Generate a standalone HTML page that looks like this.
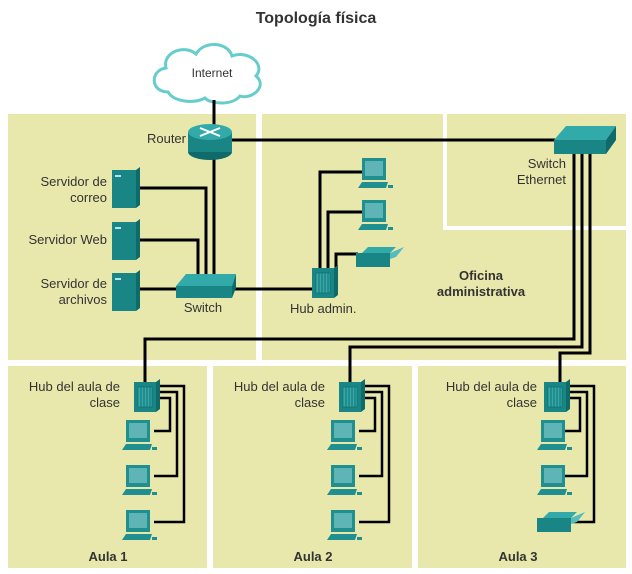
<!DOCTYPE html>
<html><head><meta charset="utf-8"><style>
body{margin:0;background:#fff}
svg{display:block}
text{font-family:"Liberation Sans",sans-serif;fill:#333}
</style></head><body>
<svg width="632" height="574" viewBox="0 0 632 574" xmlns="http://www.w3.org/2000/svg">
<defs>
<g id="pc">
<rect x="4" y="0" width="24" height="22" fill="#1f8f8f"/>
<rect x="7" y="3" width="18" height="15" fill="#5fb5b5"/>
<polygon points="0,30 4,24 30,24 28,30" fill="#1f8f8f"/>
<rect x="30" y="27" width="5" height="3" fill="#1f8f8f"/>
</g>
<g id="srv">
<rect x="0" y="0" width="24" height="38" fill="#1a8585"/>
<polygon points="24,0 28,-3 28,35 24,38" fill="#0f6a6a"/>
<rect x="3" y="5" width="6" height="2" fill="#bde"/>
</g>
<g id="hub">
<rect x="0" y="0" width="22" height="30" fill="#1a8585"/>
<polygon points="22,0 26,-3 26,27 22,30" fill="#0f6a6a"/>
<rect x="4" y="5" width="14" height="20" fill="#3aa" stroke="#0d5f5f" stroke-width="0.5"/>
<path d="M7 5v20M10 5v20M13 5v20M16 5v20" stroke="#0d5f5f" stroke-width="0.8"/>
</g>
<g id="prn">
<rect x="0" y="6" width="34" height="14" fill="#1a8585"/>
<polygon points="6,6 34,6 40,0 12,0" fill="#3aa"/>
<polygon points="34,6 48,0 40,10 34,12" fill="#5bb"/>
</g>
</defs>
<text x="316" y="23" text-anchor="middle" font-size="16" font-weight="bold">Topología física</text>
<!-- panels -->
<rect x="8" y="114" width="248" height="246" fill="#e8e8ac"/>
<rect x="262" y="114" width="364" height="246" fill="#e8e8ac"/>
<rect x="443" y="114" width="4" height="116" fill="#fff"/>
<rect x="443" y="226" width="183" height="4" fill="#fff"/>
<rect x="8" y="366" width="199" height="202" fill="#e8e8ac"/>
<rect x="213" y="366" width="199" height="202" fill="#e8e8ac"/>
<rect x="418" y="366" width="208" height="202" fill="#e8e8ac"/>
<!-- cloud -->
<path d="M168 92 C150 92 150 70 166 68 C162 52 185 44 196 54 C204 40 228 42 232 56 C248 50 266 64 256 76 C268 86 252 100 240 96 C232 106 210 104 205 98 C194 104 174 102 168 92Z" fill="#fff" stroke="#6cc" stroke-width="3"/>
<text x="212" y="77" text-anchor="middle" font-size="12">Internet</text>
<g stroke="#000" stroke-width="3" fill="none">
<path d="M214 100V285"/>
<path d="M214 140H560"/>
<path d="M140 188H206V280M140 240H198V280M140 289H180M230 289H314"/>
<path d="M320 268V172H362M328 268V212H362M336 268V254H358"/>
<path d="M574 150V339H145V382M582 150V347H350V382M590 150V353H560V382"/>
</g>
<g stroke="#000" stroke-width="2.5" fill="none">
<path d="M158 386H184V522H154M158 392H177V476H154M158 398H170V431H154"/>
<path d="M363 386H389V522H359M363 392H382V476H359M363 398H375V431H359"/>
<path d="M568 386H594V522H564M568 392H587V476H564M568 398H580V431H564"/>
</g>
<!-- router -->
<ellipse cx="210" cy="152" rx="22" ry="8" fill="#0f6a6a"/>
<rect x="188" y="132" width="44" height="20" fill="#1a8585"/>
<ellipse cx="210" cy="132" rx="22" ry="8" fill="#3aa"/>
<path d="M200 128l20 8M220 128l-20 8" stroke="#fff" stroke-width="2"/>
<text x="186" y="143" text-anchor="end" font-size="13">Router</text>
<!-- switch -->
<polygon points="176,286 186,274 236,274 232,286" fill="#3aa"/>
<rect x="176" y="286" width="56" height="12" fill="#1a8585"/>
<polygon points="232,286 236,274 236,288 232,298" fill="#0f6a6a"/>
<text x="203" y="312" text-anchor="middle" font-size="13">Switch</text>
<!-- ethernet switch -->
<polygon points="554,140 566,126 616,126 606,140" fill="#3aa"/>
<rect x="554" y="140" width="52" height="14" fill="#1a8585"/>
<polygon points="606,140 616,126 616,140 606,154" fill="#0f6a6a"/>
<text x="566" y="168" text-anchor="end" font-size="13">Switch</text>
<text x="566" y="184" text-anchor="end" font-size="13">Ethernet</text>
<!-- servers -->
<use href="#srv" x="112" y="170"/>
<use href="#srv" x="112" y="222"/>
<use href="#srv" x="112" y="273"/>
<g font-size="13" text-anchor="end">
<text x="107" y="186">Servidor de</text><text x="107" y="202">correo</text>
<text x="107" y="244">Servidor Web</text>
<text x="107" y="288">Servidor de</text><text x="107" y="304">archivos</text>
</g>
<!-- hub admin -->
<use href="#hub" x="312" y="268"/>
<text x="290" y="313" font-size="13">Hub admin.</text>
<use href="#pc" x="358" y="158"/>
<use href="#pc" x="358" y="200"/>
<use href="#prn" x="356" y="247"/>
<text x="481" y="280" text-anchor="middle" font-size="13" font-weight="bold">Oficina</text>
<text x="481" y="296" text-anchor="middle" font-size="13" font-weight="bold">administrativa</text>
<!-- classrooms -->
<g>
<use href="#hub" x="134" y="382"/>
<text x="120" y="391" text-anchor="end" font-size="13">Hub del aula de</text>
<text x="120" y="407" text-anchor="end" font-size="13">clase</text>
<use href="#pc" x="122" y="420"/><use href="#pc" x="122" y="465"/><use href="#pc" x="122" y="510"/>
<text x="108" y="561" text-anchor="middle" font-size="13" font-weight="bold">Aula 1</text>
</g>
<g>
<use href="#hub" x="339" y="382"/>
<text x="325" y="391" text-anchor="end" font-size="13">Hub del aula de</text>
<text x="325" y="407" text-anchor="end" font-size="13">clase</text>
<use href="#pc" x="327" y="420"/><use href="#pc" x="327" y="465"/><use href="#pc" x="327" y="510"/>
<text x="313" y="561" text-anchor="middle" font-size="13" font-weight="bold">Aula 2</text>
</g>
<g>
<use href="#hub" x="544" y="382"/>
<text x="537" y="391" text-anchor="end" font-size="13">Hub del aula de</text>
<text x="537" y="407" text-anchor="end" font-size="13">clase</text>
<use href="#pc" x="537" y="420"/><use href="#pc" x="537" y="465"/>
<use href="#prn" x="537" y="512"/>
<text x="518" y="561" text-anchor="middle" font-size="13" font-weight="bold">Aula 3</text>
</g>
</svg>
</body></html>
